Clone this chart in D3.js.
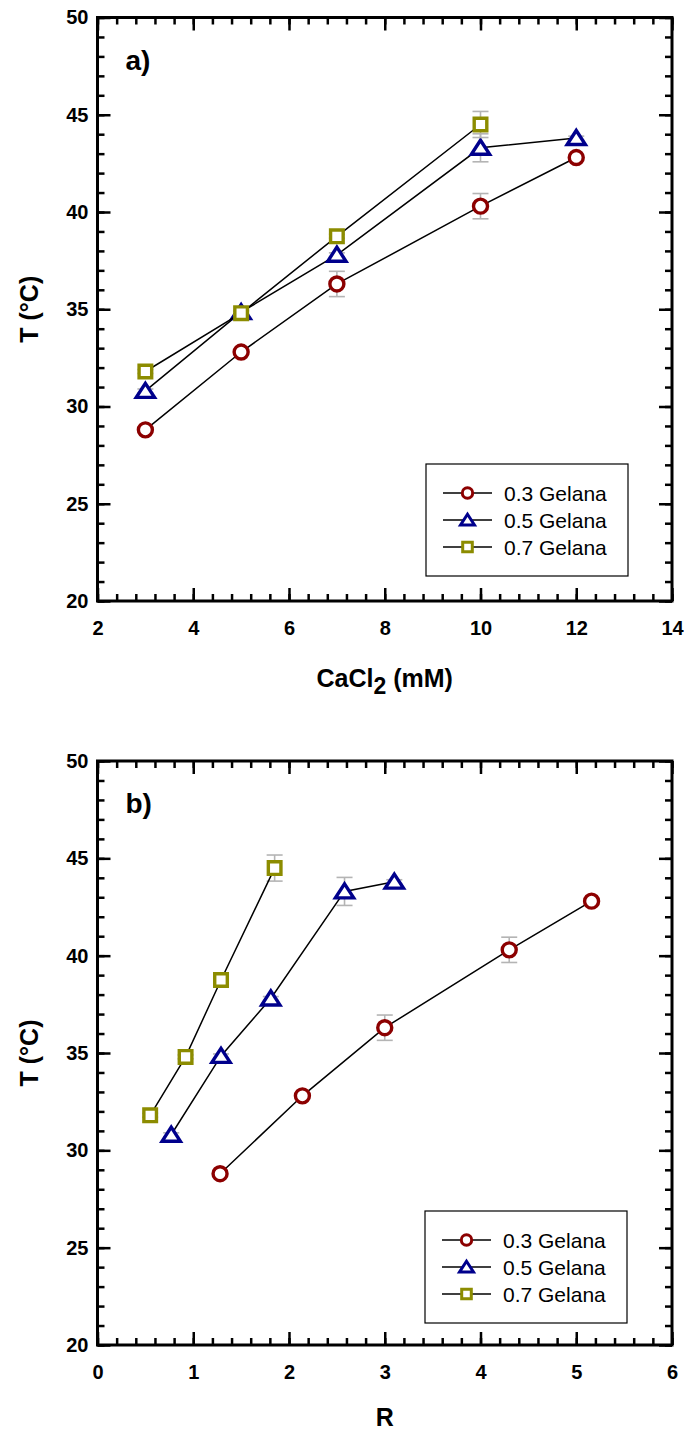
<!DOCTYPE html>
<html>
<head>
<meta charset="utf-8">
<script src="https://cdn.jsdelivr.net/npm/d3@7"></script>
<style>
  html, body { margin: 0; padding: 0; background: #fff; }
  svg { display: block; font-family: "Liberation Sans", Arial, sans-serif; }
</style>
</head>
<body>
<svg id="chart" width="684" height="1430"></svg>
<script>
// Gel transition temperature vs. CaCl2 concentration (a) and vs. R (b)
const seriesNames = ["0.3 Gelana", "0.5 Gelana", "0.7 Gelana"];
const seriesColors = ["#8c0000", "#00008c", "#8c8c00"];
const seriesSymbols = ["circle", "triangle", "square"];

const cacl2G03 = [3, 5, 7, 10, 12];
const cacl2G05 = [3, 5, 7, 10, 12];
const cacl2G07 = [3, 5, 7, 10];

const tempG03 = [28.8, 32.8, 36.3, 40.3, 42.8];
const tempG05 = [30.8, 34.85, 37.8, 43.3, 43.8];
const tempG07 = [31.8, 34.8, 38.75, 44.5];

const errG03 = [0.1, 0.1, 0.65, 0.65, 0.1];
const errG05 = [0.1, 0.1, 0.1, 0.72, 0.1];
const errG07 = [0.1, 0.1, 0.1, 0.67];

const rG03 = [1.28, 2.14, 3.0, 4.3, 5.16];
const rG05 = [0.77, 1.29, 1.81, 2.58, 3.1];
const rG07 = [0.55, 0.92, 1.29, 1.85];

const xTicksA = [2, 4, 6, 8, 10, 12, 14];
const xTicksB = [0, 1, 2, 3, 4, 5, 6];
const yTicks = [20, 25, 30, 35, 40, 45, 50];

const svg = d3.select("#chart");

function symbolPath(kind, size) {
  if (kind === "circle") {
    return d3.symbol().type(d3.symbolCircle).size(Math.PI * size * size)();
  }
  if (kind === "square") {
    const h = size;
    return `M${-h},${-h}H${h}V${h}H${-h}Z`;
  }
  // upward triangle
  const w = size * 1.2, hh = size;
  return `M0,${-hh}L${w},${hh * 0.85}L${-w},${hh * 0.85}Z`;
}

function panel(cfg) {
  const g = svg.append("g");
  const x = d3.scaleLinear().domain(cfg.xDomain).range([cfg.left, cfg.right]);
  const y = d3.scaleLinear().domain([20, 50]).range([cfg.bottom, cfg.top]);

  const fontTick = "bold 20px 'Liberation Sans', Arial, sans-serif";

  // minor ticks on all four sides, major ticks mirrored on top and right
  const minorX = d3.range(cfg.xDomain[0], cfg.xDomain[1] + 1e-9, cfg.xMinor);
  const minorY = d3.range(20, 50 + 1e-9, 1);
  const axes = [
    [d3.axisBottom(x).tickValues(minorX).tickSize(-7).tickFormat(""), `translate(0,${cfg.bottom})`],
    [d3.axisTop(x).tickValues(minorX).tickSize(-7).tickFormat(""), `translate(0,${cfg.top})`],
    [d3.axisLeft(y).tickValues(minorY).tickSize(-7).tickFormat(""), `translate(${cfg.left},0)`],
    [d3.axisRight(y).tickValues(minorY).tickSize(-7).tickFormat(""), `translate(${cfg.right},0)`],
    [d3.axisTop(x).tickValues(cfg.xTicks).tickSize(-13).tickFormat(""), `translate(0,${cfg.top})`],
    [d3.axisRight(y).tickValues(yTicks).tickSize(-13).tickFormat(""), `translate(${cfg.right},0)`]
  ];
  axes.forEach(([ax, tr]) => {
    const a = g.append("g").attr("transform", tr).call(ax);
    a.select(".domain").remove();
    a.selectAll("line").attr("stroke", "#000").attr("stroke-width", 2.5);
  });

  const xa = g.append("g").attr("transform", `translate(0,${cfg.bottom})`)
    .call(d3.axisBottom(x).tickValues(cfg.xTicks).tickSize(-13).tickPadding(20).tickFormat(d3.format("d")));
  xa.select(".domain").remove();
  xa.selectAll("line").attr("stroke", "#000").attr("stroke-width", 2.5);
  xa.selectAll("text").attr("fill", "#000").style("font", fontTick);

  const ya = g.append("g").attr("transform", `translate(${cfg.left},0)`)
    .call(d3.axisLeft(y).tickValues(yTicks).tickSize(-13).tickPadding(9).tickFormat(d3.format("d")));
  ya.select(".domain").remove();
  ya.selectAll("line").attr("stroke", "#000").attr("stroke-width", 2.5);
  ya.selectAll("text").attr("fill", "#000").style("font", fontTick);

  // frame
  g.append("rect")
    .attr("x", cfg.left).attr("y", cfg.top)
    .attr("width", cfg.right - cfg.left).attr("height", cfg.bottom - cfg.top)
    .attr("fill", "none").attr("stroke", "#000").attr("stroke-width", 3);

  // panel letter
  g.append("text").attr("x", cfg.left + 28).attr("y", cfg.top + 52)
    .style("font", "bold 28px 'Liberation Sans', Arial, sans-serif")
    .text(cfg.letter);

  // axis titles
  g.append("text")
    .attr("transform", `translate(38,${(cfg.top + cfg.bottom) / 2}) rotate(-90)`)
    .attr("text-anchor", "middle")
    .style("font", "bold 25px 'Liberation Sans', Arial, sans-serif")
    .text("T (°C)");

  const xt = g.append("text")
    .attr("x", (cfg.left + cfg.right) / 2).attr("y", cfg.bottom + cfg.xTitleOffset)
    .attr("text-anchor", "middle")
    .style("font", "bold 25px 'Liberation Sans', Arial, sans-serif");
  cfg.xTitle(xt);

  // series: error bars, connecting line, open markers
  cfg.series.forEach((s, i) => {
    const pts = s.x.map((v, j) => ({ x: v, y: s.y[j], e: s.e[j] }));
    const sg = g.append("g");
    pts.forEach(p => {
      const capW = 8;
      const y0 = y(p.y - p.e), y1 = y(p.y + p.e);
      sg.append("line").attr("x1", x(p.x)).attr("x2", x(p.x)).attr("y1", y0).attr("y2", y1)
        .attr("stroke", "#b4b4b4").attr("stroke-width", 1.6);
      [y0, y1].forEach(yy => sg.append("line")
        .attr("x1", x(p.x) - capW).attr("x2", x(p.x) + capW).attr("y1", yy).attr("y2", yy)
        .attr("stroke", "#b4b4b4").attr("stroke-width", 1.6));
    });
    sg.append("path")
      .attr("d", d3.line().x(p => x(p.x)).y(p => y(p.y))(pts))
      .attr("fill", "none").attr("stroke", "#000").attr("stroke-width", 1.5);
    const size = seriesSymbols[i] === "circle" ? 7 : seriesSymbols[i] === "square" ? 6.3 : 7.6;
    sg.selectAll(".m").data(pts).enter().append("path")
      .attr("transform", p => `translate(${x(p.x)},${y(p.y)})`)
      .attr("d", symbolPath(seriesSymbols[i], size))
      .attr("fill", "#fff").attr("stroke", seriesColors[i]).attr("stroke-width", 3.4);
  });

  // legend
  const lg = g.append("g");
  lg.append("rect")
    .attr("x", cfg.legend.x).attr("y", cfg.legend.y)
    .attr("width", 202).attr("height", 112)
    .attr("fill", "#fff").attr("stroke", "#000").attr("stroke-width", 1.2);
  seriesNames.forEach((name, i) => {
    const ry = cfg.legend.y + 29 + i * 27;
    const lx = cfg.legend.x + 17;
    lg.append("line").attr("x1", lx).attr("x2", lx + 49).attr("y1", ry).attr("y2", ry)
      .attr("stroke", "#000").attr("stroke-width", 1.5);
    const size = seriesSymbols[i] === "circle" ? 5.2 : seriesSymbols[i] === "square" ? 4.8 : 5.8;
    lg.append("path").attr("transform", `translate(${lx + 24.5},${ry})`)
      .attr("d", symbolPath(seriesSymbols[i], size))
      .attr("fill", "#fff").attr("stroke", seriesColors[i]).attr("stroke-width", 3);
    lg.append("text").attr("x", cfg.legend.x + 78).attr("y", ry + 7.5)
      .style("font", "21px 'Liberation Sans', Arial, sans-serif")
      .text(name);
  });
}

panel({
  letter: "a)",
  xDomain: [2, 14], xTicks: xTicksA, xMinor: 0.4,
  left: 97.5, right: 672, top: 17.5, bottom: 601,
  legend: { x: 426, y: 464 },
  xTitleOffset: 86,
  xTitle: t => {
    t.append("tspan").text("CaCl");
    t.append("tspan").attr("dy", 7).style("font-size", "23px").text("2");
    t.append("tspan").attr("dy", -7).text(" (mM)");
  },
  series: [
    { x: cacl2G03, y: tempG03, e: errG03 },
    { x: cacl2G05, y: tempG05, e: errG05 },
    { x: cacl2G07, y: tempG07, e: errG07 }
  ]
});

panel({
  letter: "b)",
  xDomain: [0, 6], xTicks: xTicksB, xMinor: 0.2,
  left: 97.5, right: 672, top: 761, bottom: 1345,
  legend: { x: 425, y: 1211 },
  xTitleOffset: 81,
  xTitle: t => t.text("R"),
  series: [
    { x: rG03, y: tempG03, e: errG03 },
    { x: rG05, y: tempG05, e: errG05 },
    { x: rG07, y: tempG07, e: errG07 }
  ]
});
</script>
</body>
</html>
